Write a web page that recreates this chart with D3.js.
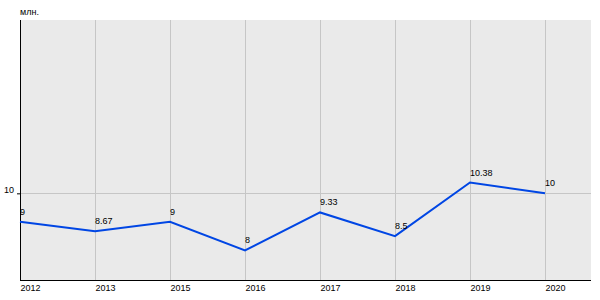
<!DOCTYPE html>
<html>
<head>
<meta charset="utf-8">
<script src="https://cdn.jsdelivr.net/npm/d3@7"></script>
<style>
	body { margin: 0; background: #fff; }
	svg text { font-family: "Liberation Sans", Arial, sans-serif; font-size: 9px; fill: #000; }
</style>
</head>
<body>
<div id="chart"></div>
<script>
'use strict';

const YEARS = ['2012', '2013', '2015', '2016', '2017', '2018', '2019', '2020']
const VALUES = [9, 8.67, 9, 8, 9.33, 8.5, 10.38, 10]
const VALUE_LABELS = ['9', '8.67', '9', '8', '9.33', '8.5', '10.38', '10']
const Y_TICKS = [10]
const UNIT = 'млн.'

const W = 600, H = 300
const m = [20, 9, 20, 20] // top, right, bottom, left
const w = W - m[1] - m[3]
const h = H - m[0] - m[2]

const svg = d3.select('#chart').append('svg')
	.attr('width', W)
	.attr('height', H)

const graph = svg.append('g')
	.attr('transform', 'translate(' + m[3] + ',' + m[0] + ')')

// categories sit 75px apart, leaving a gap after the last one
const x = d3.scalePoint().domain(YEARS).range([0, 525])
const y = d3.scaleLinear().domain([6.96, 16.08]).range([h, 0])

graph.append('rect')
	.attr('width', w).attr('height', h)
	.attr('fill', '#eaeaea')

// vertical grid
graph.append('g')
	.selectAll('line').data(YEARS).enter().append('line')
	.attr('x1', d => Math.round(x(d)) + 0.5).attr('x2', d => Math.round(x(d)) + 0.5)
	.attr('y1', 0).attr('y2', h)
	.attr('stroke', '#c6c6c6')

// horizontal grid
graph.append('g')
	.selectAll('line').data(Y_TICKS).enter().append('line')
	.attr('x1', 0).attr('x2', w)
	.attr('y1', d => Math.round(y(d)) + 0.5).attr('y2', d => Math.round(y(d)) + 0.5)
	.attr('stroke', '#c6c6c6')

const yAxis = d3.axisLeft(y).tickValues(Y_TICKS).tickSize(3).tickPadding(3)
const ya = graph.append('g').call(yAxis)
ya.select('.domain').remove()
ya.selectAll('text').attr('dy', '-0.05em').style('font-family', null).style('font-size', null)
ya.selectAll('line').attr('stroke', '#000')

const xAxis = d3.axisBottom(x).tickSize(0).tickPadding(4)
const xa = graph.append('g')
	.attr('transform', 'translate(0,' + h + ')')
	.call(xAxis)
xa.select('.domain').remove()
xa.selectAll('text').attr('text-anchor', 'start').attr('dy', '0.75em')
xa.attr('font-family', null).attr('font-size', null)
ya.attr('font-family', null).attr('font-size', null)

// axis lines
graph.append('line')
	.attr('x1', 0.5).attr('x2', 0.5).attr('y1', 0).attr('y2', h)
	.attr('stroke', '#000')
graph.append('line')
	.attr('x1', 0).attr('x2', w).attr('y1', h + 0.5).attr('y2', h + 0.5)
	.attr('stroke', '#000')

const line = d3.line()
	.x((d, i) => x(YEARS[i]))
	.y(d => y(d))

graph.append('path')
	.attr('d', line(VALUES))
	.attr('fill', 'none')
	.attr('stroke', '#0046e4')
	.attr('stroke-width', 2)

graph.append('g')
	.selectAll('text').data(VALUES).enter().append('text')
	.attr('x', (d, i) => x(YEARS[i]))
	.attr('y', d => y(d) - 7)
	.text((d, i) => VALUE_LABELS[i])

svg.append('text')
	.attr('x', 20).attr('y', 15)
	.text(UNIT)
</script>
</body>
</html>
